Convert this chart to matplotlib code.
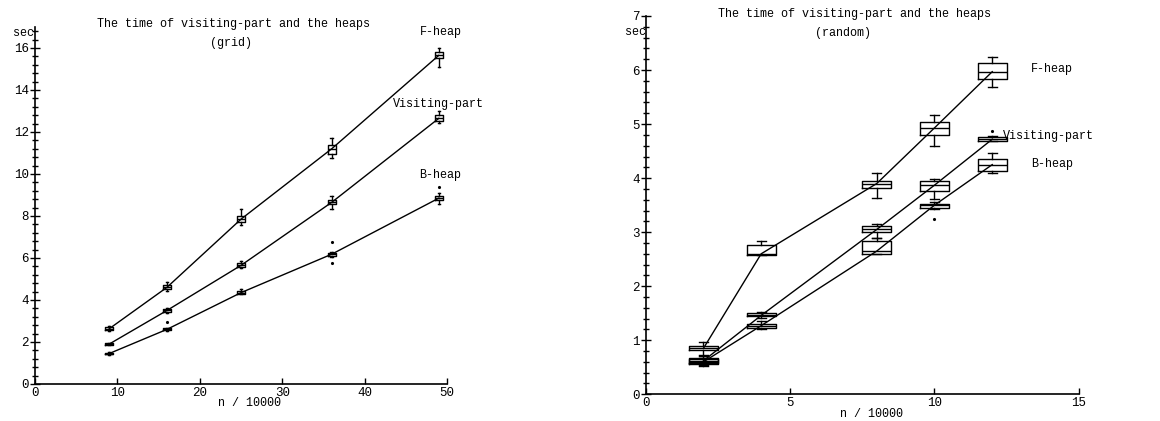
import matplotlib
matplotlib.use("Agg")
import matplotlib.pyplot as plt
from matplotlib.ticker import MultipleLocator

plt.rcParams["font.family"] = ["Liberation Mono", "DejaVu Sans Mono"]

# box stats per point: (whisker low, q1, median, q3, whisker high)
grid_n = [9, 16, 25, 36, 49]
grid_fheap = [(2.50, 2.55, 2.63, 2.70, 2.75), (4.45, 4.52, 4.60, 4.70, 4.85),
              (7.55, 7.70, 7.85, 8.00, 8.35), (10.75, 10.95, 11.20, 11.40, 11.70),
              (15.10, 15.50, 15.65, 15.80, 16.00)]
grid_visit = [(1.85, 1.87, 1.90, 1.95, 1.97), (3.40, 3.45, 3.50, 3.55, 3.60),
              (5.50, 5.55, 5.65, 5.75, 5.85), (8.35, 8.55, 8.65, 8.75, 8.95),
              (12.45, 12.50, 12.65, 12.80, 13.00)]
grid_bheap = [(1.40, 1.42, 1.45, 1.48, 1.50), (2.53, 2.55, 2.60, 2.65, 2.68),
              (4.28, 4.30, 4.35, 4.45, 4.50), (6.05, 6.10, 6.18, 6.25, 6.30),
              (8.55, 8.75, 8.85, 8.95, 9.10)]
grid_bheap_fliers = [[], [2.95], [], [6.75, 5.75], [9.40]]

rand_n = [2, 4, 8, 10, 12]
rand_fheap = [(0.73, 0.82, 0.85, 0.90, 0.97), (2.58, 2.58, 2.60, 2.76, 2.83),
              (3.63, 3.81, 3.90, 3.95, 4.09), (4.60, 4.80, 4.93, 5.03, 5.17),
              (5.68, 5.84, 5.97, 6.13, 6.24)]
rand_visit = [(0.55, 0.58, 0.62, 0.68, 0.70), (1.42, 1.44, 1.46, 1.50, 1.52),
              (2.90, 3.00, 3.05, 3.12, 3.15), (3.62, 3.77, 3.87, 3.95, 3.98),
              (4.68, 4.69, 4.72, 4.76, 4.78)]
rand_visit_fliers = [[], [], [], [], [4.87]]
rand_bheap = [(0.52, 0.57, 0.60, 0.66, 0.68), (1.20, 1.22, 1.27, 1.30, 1.35),
              (2.59, 2.59, 2.65, 2.84, 2.90), (3.43, 3.44, 3.50, 3.53, 3.55),
              (4.10, 4.13, 4.25, 4.36, 4.47)]
rand_bheap_fliers = [[], [], [], [3.25], []]

title = "The time of visiting-part and the heaps"


def draw_series(ax, xs, boxes, fliers=None):
    stats = []
    for i, (lo, q1, med, q3, hi) in enumerate(boxes):
        stats.append(dict(whislo=lo, q1=q1, med=med, q3=q3, whishi=hi,
                          fliers=fliers[i] if fliers else []))
    ax.bxp(stats, positions=xs, widths=1.0, capwidths=0.3, manage_ticks=False,
           boxprops=dict(color="k", lw=1), whiskerprops=dict(color="k", lw=1),
           capprops=dict(color="k", lw=1), medianprops=dict(color="k", lw=1),
           flierprops=dict(marker=".", markersize=2.5, markerfacecolor="k",
                           markeredgecolor="k"))
    ax.plot(xs, [b[2] for b in boxes], color="k", lw=1)


def style_axes(ax, xmax, ymax, ymajor, yminor, xmajor):
    ax.set_xlim(0, xmax)
    ax.set_ylim(0, ymax)
    ax.spines["top"].set_visible(False)
    ax.spines["right"].set_visible(False)
    ax.spines["left"].set_linewidth(1.2)
    ax.spines["bottom"].set_linewidth(1.2)
    ax.yaxis.set_major_locator(MultipleLocator(ymajor))
    ax.yaxis.set_minor_locator(MultipleLocator(yminor))
    ax.xaxis.set_major_locator(MultipleLocator(xmajor))
    ax.tick_params(axis="y", which="major", direction="inout", length=7,
                   width=1, pad=1, labelsize=9)
    ax.tick_params(axis="y", which="minor", direction="inout", length=4, width=1)
    ax.tick_params(axis="x", which="major", direction="in", length=4, width=1,
                   pad=2, labelsize=9)


fig = plt.figure(figsize=(11.6, 4.21), dpi=100)

# grid
ax1 = fig.add_axes([0.0302, 0.0879, 0.3552, 0.848])
draw_series(ax1, grid_n, grid_fheap)
draw_series(ax1, grid_n, grid_visit)
draw_series(ax1, grid_n, grid_bheap, grid_bheap_fliers)
style_axes(ax1, 50, 17, 2, 0.4, 10)
ax1.set_yticks([0, 2, 4, 6, 8, 10, 12, 14, 16])
ax1.text(233 / 1160, 1 - 24 / 421, title, transform=fig.transFigure,
         ha="center", va="center", fontsize=8.5)
ax1.text(231 / 1160, 1 - 43 / 421, "(grid)", transform=fig.transFigure,
         ha="center", va="center", fontsize=8.5)
ax1.text(23 / 1160, 1 - 33 / 421, "sec", transform=fig.transFigure,
         ha="center", va="center", fontsize=8.5)
ax1.text(250 / 1160, 1 - 403 / 421, "n / 10000", transform=fig.transFigure,
         ha="center", va="center", fontsize=8.5)
ax1.text(49.2, 16.75, "F-heap", ha="center", va="center", fontsize=8.5)
ax1.text(49.0, 13.35, "Visiting-part", ha="center", va="center", fontsize=8.5)
ax1.text(49.2, 9.95, "B-heap", ha="center", va="center", fontsize=8.5)

# random
ax2 = fig.add_axes([0.5566, 0.0634, 0.3735, 0.8986])
draw_series(ax2, rand_n, rand_fheap)
draw_series(ax2, rand_n, rand_visit, rand_visit_fliers)
draw_series(ax2, rand_n, rand_bheap, rand_bheap_fliers)
style_axes(ax2, 15, 7, 1, 0.2, 5)
ax2.text(854 / 1160, 1 - 14 / 421, title, transform=fig.transFigure,
         ha="center", va="center", fontsize=8.5)
ax2.text(843 / 1160, 1 - 33 / 421, "(random)", transform=fig.transFigure,
         ha="center", va="center", fontsize=8.5)
ax2.text(636 / 1160, 1 - 32 / 421, "sec", transform=fig.transFigure,
         ha="center", va="center", fontsize=8.5)
ax2.text(872 / 1160, 1 - 414 / 421, "n / 10000", transform=fig.transFigure,
         ha="center", va="center", fontsize=8.5)
ax2.text(14.06, 6.02, "F-heap", ha="center", va="center", fontsize=8.5)
ax2.text(13.93, 4.78, "Visiting-part", ha="center", va="center", fontsize=8.5)
ax2.text(14.06, 4.26, "B-heap", ha="center", va="center", fontsize=8.5)

fig.savefig("out.png", dpi=100)
